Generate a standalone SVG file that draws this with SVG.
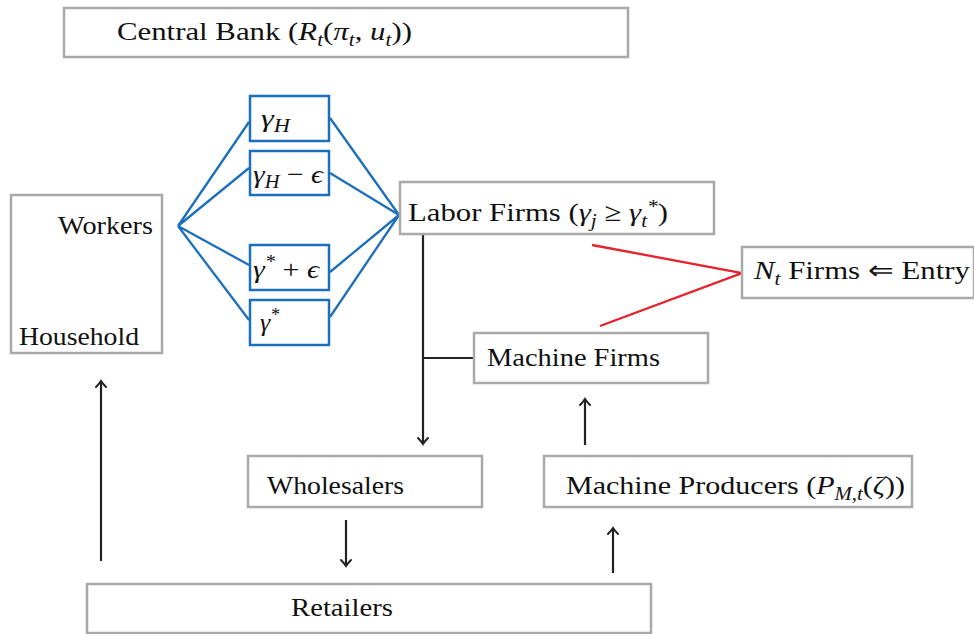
<svg xmlns="http://www.w3.org/2000/svg" width="974" height="634" viewBox="0 0 974 634">
  <defs>
    <marker id="arr" markerUnits="userSpaceOnUse" markerWidth="14" markerHeight="14" viewBox="-8 -7 10 14" refX="0" refY="0" orient="auto">
      <path d="M -6 -5 Q -2 -1.2 0 0 Q -2 1.2 -6 5" fill="none" stroke="#222" stroke-width="2" stroke-linecap="round"/>
    </marker>
  </defs>
  <style>
    .box { fill: #fff; stroke: #a9a9a9; stroke-width: 2.5; }
    .gbox { fill: #fff; stroke: #1c6fba; stroke-width: 2.5; }
    .blue { stroke: #1c6fba; stroke-width: 2.3; fill: none; }
    .red { stroke: #e8212b; stroke-width: 2.3; fill: none; }
    .flow { stroke: #222; stroke-width: 2.2; fill: none; }
    .it { font-style: italic; }
    .sub { font-size: 18px; font-style: italic; }
  </style>
  <rect width="974" height="634" fill="#fff"/>

  <g id="central-bank">
    <rect class="box" x="64" y="8" width="564" height="49"/>
    <text x="117" y="40" font-family="Liberation Serif" font-size="26" fill="#111" textLength="295" lengthAdjust="spacingAndGlyphs">Central Bank (<tspan class="it">R</tspan><tspan class="sub" dy="6">t</tspan><tspan dy="-6">(</tspan><tspan class="it">π</tspan><tspan class="sub" dy="6">t</tspan><tspan dy="-6">, </tspan><tspan class="it">u</tspan><tspan class="sub" dy="6">t</tspan><tspan dy="-6">))</tspan></text>
  </g>

  <g id="household">
    <rect class="box" x="11" y="195" width="151" height="158"/>
    <text x="58" y="234" font-family="Liberation Serif" font-size="26" fill="#111" textLength="95" lengthAdjust="spacingAndGlyphs">Workers</text>
    <text x="19" y="345" font-family="Liberation Serif" font-size="26" fill="#111" textLength="120" lengthAdjust="spacingAndGlyphs">Household</text>
  </g>

  <g id="connectors">
    <!-- worker types fan out from Workers and merge into Labor Firms -->
    <path class="blue" d="M178 226 L249 122 M178 226 L249 168 M178 226 L249 265 M178 226 L249 320"/>
    <path class="blue" d="M330 118 L399 215 M330 173 L399 215 M330 272 L399 215 M330 317 L399 215"/>
    <!-- entry links -->
    <path class="red" d="M592 245 L742 273 L600 326"/>
    <!-- production flows -->
    <path class="flow" d="M423 234 L423 444" marker-end="url(#arr)"/>
    <path class="flow" d="M423 358 L474 358"/>
    <path class="flow" d="M585 445 L585 399" marker-end="url(#arr)"/>
    <path class="flow" d="M346 520 L346 566" marker-end="url(#arr)"/>
    <path class="flow" d="M613 573 L613 528" marker-end="url(#arr)"/>
    <path class="flow" d="M101 561 L101 381" marker-end="url(#arr)"/>
  </g>

  <g id="gamma-high">
    <rect class="gbox" x="250" y="96" width="79" height="45"/>
    <text x="261" y="127" font-family="Liberation Serif" font-size="26" fill="#111" textLength="29" lengthAdjust="spacingAndGlyphs"><tspan class="it">γ</tspan><tspan class="sub" dy="5">H</tspan></text>
  </g>
  <g id="gamma-high-minus">
    <rect class="gbox" x="250" y="151" width="79" height="44"/>
    <text x="253" y="183" font-family="Liberation Serif" font-size="26" fill="#111" textLength="70" lengthAdjust="spacingAndGlyphs"><tspan class="it">γ</tspan><tspan class="sub" dy="5">H</tspan><tspan dy="-5"> − </tspan><tspan class="it">ϵ</tspan></text>
  </g>
  <g id="gamma-star-plus">
    <rect class="gbox" x="250" y="245" width="79" height="45"/>
    <text x="253" y="278" font-family="Liberation Serif" font-size="26" fill="#111" textLength="66" lengthAdjust="spacingAndGlyphs"><tspan class="it">γ</tspan><tspan class="sub" dy="-10">*</tspan><tspan dy="10"> + </tspan><tspan class="it">ϵ</tspan></text>
  </g>
  <g id="gamma-star">
    <rect class="gbox" x="250" y="300" width="79" height="45"/>
    <text x="260" y="331" font-family="Liberation Serif" font-size="26" fill="#111"><tspan class="it">γ</tspan><tspan class="sub" dy="-10">*</tspan></text>
  </g>

  <g id="labor-firms">
    <rect class="box" x="400" y="182" width="314" height="52"/>
    <text x="408" y="221" font-family="Liberation Serif" font-size="26" fill="#111" textLength="260" lengthAdjust="spacingAndGlyphs">Labor Firms (<tspan class="it">γ</tspan><tspan class="sub" dy="6">j</tspan><tspan dy="-6"> ≥ </tspan><tspan class="it">γ</tspan><tspan class="sub" dy="6">t</tspan><tspan class="sub" dy="-14">*</tspan><tspan dy="8">)</tspan></text>
  </g>

  <g id="entry">
    <rect class="box" x="742" y="247" width="232" height="51"/>
    <text x="754" y="279" font-family="Liberation Serif" font-size="26" fill="#111" textLength="216" lengthAdjust="spacingAndGlyphs"><tspan class="it">N</tspan><tspan class="sub" dy="6">t</tspan><tspan dy="-6"> Firms ⇐ Entry</tspan></text>
  </g>

  <g id="machine-firms">
    <rect class="box" x="474" y="333" width="234" height="50"/>
    <text x="487" y="366" font-family="Liberation Serif" font-size="26" fill="#111" textLength="173" lengthAdjust="spacingAndGlyphs">Machine Firms</text>
  </g>

  <g id="wholesalers">
    <rect class="box" x="248" y="456" width="234" height="51"/>
    <text x="267" y="494" font-family="Liberation Serif" font-size="26" fill="#111" textLength="137" lengthAdjust="spacingAndGlyphs">Wholesalers</text>
  </g>

  <g id="machine-producers">
    <rect class="box" x="544" y="456" width="368" height="51"/>
    <text x="566" y="494" font-family="Liberation Serif" font-size="26" fill="#111" textLength="339" lengthAdjust="spacingAndGlyphs">Machine Producers (<tspan class="it">P</tspan><tspan class="sub" dy="6">M,t</tspan><tspan dy="-6">(</tspan><tspan class="it">ζ</tspan>))</text>
  </g>

  <g id="retailers">
    <rect class="box" x="87" y="584" width="564" height="49"/>
    <text x="291" y="616" font-family="Liberation Serif" font-size="26" fill="#111" textLength="102" lengthAdjust="spacingAndGlyphs">Retailers</text>
  </g>
</svg>
